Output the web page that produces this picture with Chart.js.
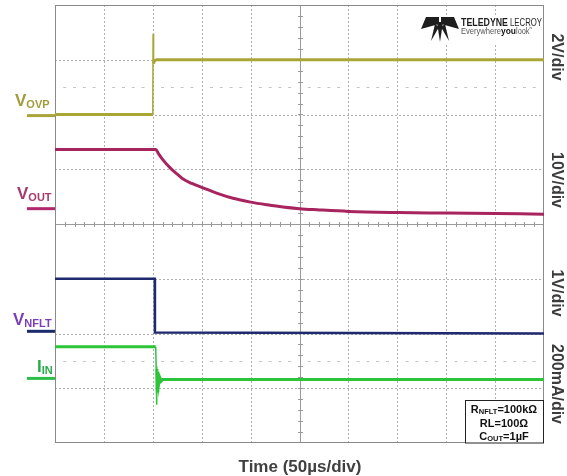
<!DOCTYPE html>
<html>
<head>
<meta charset="utf-8">
<script src="https://cdn.jsdelivr.net/npm/chart.js@4.4.1/dist/chart.umd.min.js"></script>
<style>
  html, body { margin: 0; padding: 0; background: #fff; }
  #wrap { width: 567px; height: 476px; position: relative; }
</style>
</head>
<body>
<div id="wrap"><canvas id="scope"></canvas></div>
<script>
// time axis in microseconds (50us/div, 10 divs), vertical in screen divisions (8 divs)
const timeMin = 0, timeMax = 500, timeDiv = 50;
const divMin = -4, divMax = 4;

// VOVP (2V/div)
const vovpT = [0, 100, 100.3, 100.8, 101.5, 104, 500];
const vovpV = [2.0, 2.0, 3.47, 2.93, 2.98, 3.0, 3.0];

// VOUT (10V/div)
const voutT = [0, 100, 103, 106, 110, 118, 125, 131, 140, 150, 166, 182, 200, 217, 233, 250, 268, 300, 350, 400, 450, 500];
const voutV = [1.36, 1.36, 1.36, 1.28, 1.18, 1.02, 0.91, 0.82, 0.74, 0.67, 0.56, 0.47, 0.40, 0.35, 0.31, 0.28, 0.26, 0.23, 0.21, 0.2, 0.19, 0.18];

// VNFLT (1V/div)
const vnfltT = [0, 102, 102.2, 500];
const vnfltV = [-1.0, -1.0, -1.98, -2.0];

// IIN (200mA/div)
const iinT = [0, 103, 103.4, 103.8, 104.2, 104.6, 105.2, 106, 107, 108.5, 110, 500];
const iinV = [-2.24, -2.24, -2.6, -3.3, -2.65, -3.05, -2.7, -2.92, -2.8, -2.87, -2.84, -2.84];

// channel names, offset markers (div), scale labels
const chNames = ["OVP", "OUT", "NFLT", "IN"];
const chMarkers = [1.98, 0.28, -1.96, -2.82];
const chScales = ["2V/div", "10V/div", "1V/div", "200mA/div"];

function toXY(ts, vs) {
  return ts.map((t, i) => ({ x: t, y: vs[i] }));
}

const FONT = '"Liberation Sans", Arial, sans-serif';

const scopeGrid = {
  id: "scopeGrid",
  beforeDatasetsDraw(chart) {
    const { ctx, chartArea: a, scales: { x, y } } = chart;
    ctx.save();
    ctx.lineWidth = 1;
    // dotted grid
    ctx.strokeStyle = "#b0b0b0";
    ctx.setLineDash([2, 2]);
    for (let t = timeMin + timeDiv; t < timeMax; t += timeDiv) {
      if (t === 250) continue;
      const px = Math.round(x.getPixelForValue(t)) + 0.5;
      ctx.beginPath(); ctx.moveTo(px, a.top); ctx.lineTo(px, a.bottom); ctx.stroke();
    }
    for (let d = divMin + 1; d < divMax; d++) {
      if (d === 0) continue;
      const py = Math.round(y.getPixelForValue(d)) + 0.5;
      ctx.beginPath(); ctx.moveTo(a.left, py); ctx.lineTo(a.right, py); ctx.stroke();
    }
    ctx.setLineDash([]);
    // center cross with minor ticks
    ctx.strokeStyle = "#9a9a9a";
    const cx = Math.round(x.getPixelForValue(250)) + 0.5;
    const cy = Math.round(y.getPixelForValue(0)) + 0.5;
    ctx.beginPath(); ctx.moveTo(a.left, cy); ctx.lineTo(a.right, cy); ctx.stroke();
    ctx.beginPath(); ctx.moveTo(cx, a.top); ctx.lineTo(cx, a.bottom); ctx.stroke();
    for (let t = 10; t < timeMax; t += 10) {
      const px = Math.round(x.getPixelForValue(t)) + 0.5;
      ctx.beginPath(); ctx.moveTo(px, cy - 2.5); ctx.lineTo(px, cy + 2.5); ctx.stroke();
    }
    for (let d = -3.8; d < 4; d += 0.2) {
      const py = Math.round(y.getPixelForValue(d)) + 0.5;
      ctx.beginPath(); ctx.moveTo(cx - 2.5, py); ctx.lineTo(cx + 2.5, py); ctx.stroke();
    }
    // half-division dash rows
    ctx.strokeStyle = "#c4c4c4";
    [2.5, -2.5].forEach(d => {
      const py = Math.round(y.getPixelForValue(d)) + 0.5;
      for (let t = 10; t < timeMax; t += 10) {
        if (t % 50 === 0) continue;
        const px = x.getPixelForValue(t);
        ctx.beginPath(); ctx.moveTo(px - 1.5, py); ctx.lineTo(px + 1.5, py); ctx.stroke();
      }
    });
    // border
    ctx.strokeStyle = "#8a8a8a";
    ctx.strokeRect(a.left + 0.5, a.top + 0.5, a.width - 1, a.height - 1);

    // logo backdrop
    ctx.fillStyle = "#fff";
    ctx.fillRect(421, 15, 122, 28);
    ctx.restore();
  },
};

function subText(ctx, x, yb, main, sub, size, subSize, color, subDrop) {
  ctx.fillStyle = color;
  ctx.textAlign = "left";
  ctx.textBaseline = "alphabetic";
  ctx.font = `bold ${size}px ${FONT}`;
  ctx.fillText(main, x, yb);
  const w = ctx.measureText(main).width;
  ctx.font = `bold ${subSize}px ${FONT}`;
  ctx.fillText(sub, x + w, yb + subDrop);
  return x + w + ctx.measureText(sub).width;
}

const scopeDecor = {
  id: "scopeDecor",
  afterDraw(chart) {
    const { ctx, chartArea: a, scales: { y } } = chart;
    ctx.save();

    // channel offset markers and names on the left
    const markCol = ["#a8a43a", "#b0286e", "#1a2a6c", "#2bbf4a"];
    const nameCol = ["#a29c3c", "#a53a6c", "#7b3fb8", "#27ad4a"];
    const nameX = [15, 17, 13, 37];
    const nameMain = ["V", "V", "V", "I"];
    const nameBase = [106, 199, 325, 372];
    chMarkers.forEach((m, i) => {
      const py = y.getPixelForValue(m);
      ctx.strokeStyle = markCol[i];
      ctx.lineWidth = 3;
      ctx.beginPath(); ctx.moveTo(27, py); ctx.lineTo(a.left, py); ctx.stroke();
      subText(ctx, nameX[i], nameBase[i], nameMain[i], chNames[i], 17, 11, nameCol[i], 2);
    });

    // volts/div labels on the right, rotated
    const scaleY = [57, 180, 293, 384];
    ctx.fillStyle = "#3c3c3c";
    ctx.font = `bold 16px ${FONT}`;
    ctx.textAlign = "center";
    ctx.textBaseline = "middle";
    chScales.forEach((s, i) => {
      ctx.save();
      ctx.translate(556, scaleY[i]);
      ctx.rotate(Math.PI / 2);
      ctx.fillText(s, 0, 0);
      ctx.restore();
    });

    // x title
    ctx.font = `bold 17px ${FONT}`;
    ctx.textBaseline = "alphabetic";
    ctx.fillStyle = "#404040";
    ctx.fillText("Time (50\u00b5s/div)", 300, 472);

    // conditions box
    ctx.fillStyle = "#fff";
    ctx.fillRect(465, 400, 78, 43);
    ctx.strokeStyle = "#222";
    ctx.lineWidth = 1;
    ctx.strokeRect(465.5, 400.5, 78, 42.5);
    ctx.fillStyle = "#111";
    ctx.textAlign = "left";
    const boxLine = (main, sub, rest, yb) => {
      ctx.font = `bold 11px ${FONT}`;
      const w1 = ctx.measureText(main).width;
      ctx.font = `bold 7.5px ${FONT}`;
      const w2 = ctx.measureText(sub).width;
      ctx.font = `bold 11px ${FONT}`;
      const w3 = ctx.measureText(rest).width;
      let x0 = 504 - (w1 + w2 + w3) / 2;
      ctx.fillText(main, x0, yb);
      ctx.font = `bold 7.5px ${FONT}`;
      ctx.fillText(sub, x0 + w1, yb + 1);
      ctx.font = `bold 11px ${FONT}`;
      ctx.fillText(rest, x0 + w1 + w2, yb);
    };
    boxLine("R", "NFLT", "=100k\u03a9", 413);
    boxLine("RL=100\u03a9", "", "", 427);
    boxLine("C", "OUT", "=1\u00b5F", 440);

    // Teledyne LeCroy logo
    ctx.fillStyle = "#1e1e1e";
    const poly = pts => {
      ctx.beginPath();
      ctx.moveTo(pts[0][0], pts[0][1]);
      pts.slice(1).forEach(p => ctx.lineTo(p[0], p[1]));
      ctx.closePath();
      ctx.fill();
    };
    poly([[426, 17], [439, 17], [439, 24], [421, 29]]);
    poly([[454, 17], [441, 17], [441, 24], [459, 29]]);
    poly([[437, 22], [443, 22], [440, 42]]);
    poly([[435, 24], [439, 27], [431, 41]]);
    poly([[445, 24], [441, 27], [449, 41]]);
    ctx.font = `bold 11px ${FONT}`;
    ctx.fillText("TELEDYNE", 461, 26, 47);
    ctx.font = `11px ${FONT}`;
    ctx.fillText("LECROY", 510, 26, 32);
    ctx.fillStyle = "#555";
    ctx.font = `9px ${FONT}`;
    ctx.fillText("Everywhere", 461, 34, 40);
    ctx.fillStyle = "#111";
    ctx.font = `bold 9px ${FONT}`;
    ctx.fillText("you", 501, 34, 15);
    ctx.fillStyle = "#555";
    ctx.font = `9px ${FONT}`;
    ctx.fillText("look\u02dc", 516, 34, 16);

    ctx.restore();
  },
};

new Chart(document.getElementById("scope").getContext("2d"), {
  type: "line",
  data: {
    datasets: [
      {
        label: "VOVP", data: toXY(vovpT, vovpV), borderColor: "#aaa636", borderWidth: 3,
        segment: { borderWidth: c => (c.p0DataIndex === 1 || c.p0DataIndex === 2 ? 1.5 : 3) },
      },
      {
        label: "VOUT", data: toXY(voutT, voutV), borderColor: "#a8245f", borderWidth: 3,
        cubicInterpolationMode: "monotone",
      },
      { label: "VNFLT", data: toXY(vnfltT, vnfltV), borderColor: "#1f2a6e", borderWidth: 2.5 },
      {
        label: "IIN", data: toXY(iinT, iinV), borderColor: "#2ec43a", borderWidth: 3,
        segment: { borderWidth: c => (c.p0DataIndex >= 1 && c.p0DataIndex <= 3 ? 1.5 : 3) },
      },
    ],
  },
  options: {
    responsive: true,
    maintainAspectRatio: false,
    animation: false,
    layout: { padding: { left: 55, right: 23, top: 5, bottom: 33 } },
    elements: { point: { radius: 0 }, line: { tension: 0, borderJoinStyle: "miter" } },
    scales: {
      x: { type: "linear", min: timeMin, max: timeMax, display: false },
      y: { type: "linear", min: divMin, max: divMax, display: false },
    },
    plugins: {
      legend: { display: false },
      tooltip: { enabled: false },
    },
  },
  plugins: [scopeGrid, scopeDecor],
});
</script>
</body>
</html>
